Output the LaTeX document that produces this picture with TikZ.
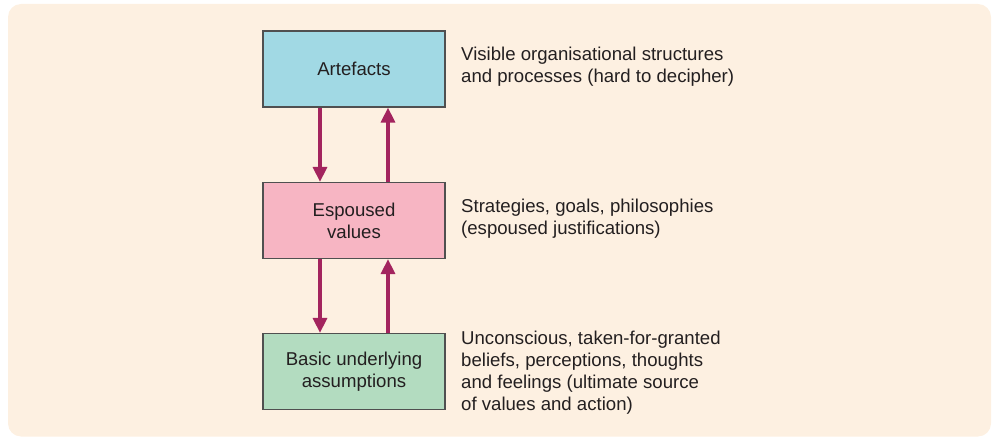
\documentclass[tikz,border=0pt]{standalone}
\usepackage{fontspec}
\setmainfont{Liberation Sans}
\usetikzlibrary{arrows.meta}
\definecolor{bgc}{HTML}{FDF0E1}
\definecolor{artc}{HTML}{A1D9E4}
\definecolor{espc}{HTML}{F7B5C3}
\definecolor{basc}{HTML}{B3DCC0}
\definecolor{arrc}{HTML}{A3245E}
\definecolor{txtc}{HTML}{231F20}
\definecolor{edgec}{HTML}{505050}
\tikzset{
  box/.style={draw=edgec, line width=1.2pt, minimum width=182pt, minimum height=76pt, inner sep=0pt, align=center, text=txtc, font=\fontsize{18.6pt}{22pt}\selectfont},
  desc/.style={anchor=west, align=left, inner sep=0pt, text=txtc, font=\fontsize{18.6pt}{22pt}\selectfont},
  arr/.style={draw=arrc, line width=3.2pt, -{Triangle[width=14pt,length=15pt]}}
}
\begin{document}
\begin{tikzpicture}[x=1pt,y=1pt]
\useasboundingbox (0,0) rectangle (997,437);
\fill[bgc, rounded corners=13pt] (8,0.5) rectangle (991,433);
\node[box, fill=artc] (art) at (354,368) {Artefacts};
\node[box, fill=espc] (esp) at (354,216.5) {Espoused\\values};
\node[box, fill=basc] (bas) at (354,65.5) {Basic underlying\\assumptions};
\draw[arr] ([xshift=-34pt]art.south) -- ([xshift=-34pt]esp.north);
\draw[arr] ([xshift=34pt]esp.north) -- ([xshift=34pt]art.south);
\draw[arr] ([xshift=-34pt]esp.south) -- ([xshift=-34pt]bas.north);
\draw[arr] ([xshift=34pt]bas.north) -- ([xshift=34pt]esp.south);
\node[desc] (d1) at (461,370) {Visible organisational structures\\and processes (hard to decipher)};
\node[desc] (d2) at (461,218) {Strategies, goals, philosophies\\(espoused justifications)};
\node[desc] (d3) at (461,64) {Unconscious, taken-for-granted\\beliefs, perceptions, thoughts\\and feelings (ultimate source\\of values and action)};
\end{tikzpicture}
\end{document}
